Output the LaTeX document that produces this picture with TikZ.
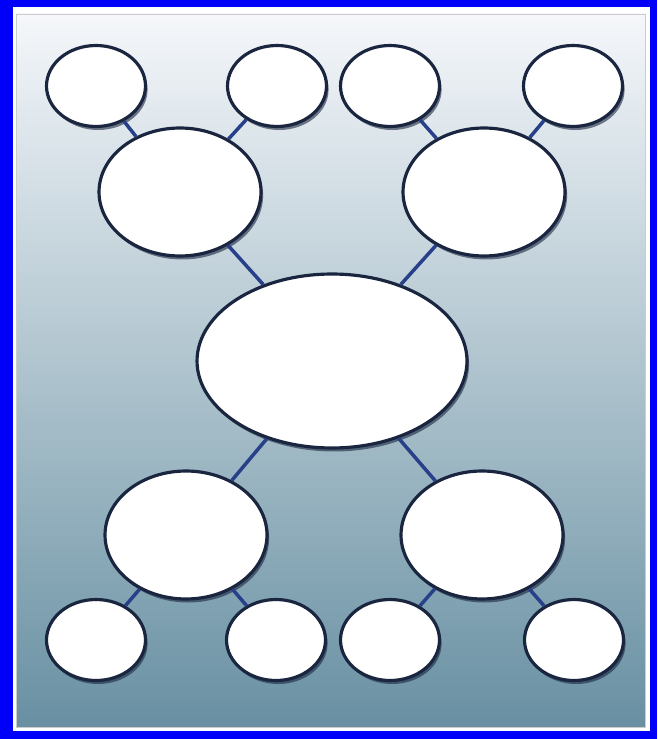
\documentclass[tikz,border=0pt]{standalone}
\usetikzlibrary{shapes.geometric, shadows}
\definecolor{frameBlue}{RGB}{0,0,250}
\definecolor{panelTop}{RGB}{245,247,250}
\definecolor{panelMid}{RGB}{170,193,205}
\definecolor{panelBot}{RGB}{104,144,162}
\definecolor{rimNavy}{RGB}{26,38,64}
\definecolor{linkBlue}{RGB}{40,64,138}

\begin{document}
\begin{tikzpicture}[x=0.02cm, y=-0.02cm,
    bubble/.style={ellipse, draw=rimNavy, line width=1.8pt, fill=white, inner sep=0pt,
      drop shadow={shadow xshift=1.2pt, shadow yshift=-2pt, opacity=0.6, fill=rimNavy}},
    leaf/.style={bubble, minimum width=1.98cm, minimum height=1.62cm},
    branch/.style={bubble, minimum width=3.24cm, minimum height=2.56cm},
    hub/.style={bubble, minimum width=5.4cm, minimum height=3.48cm},
    link/.style={draw=linkBlue, line width=2pt}]

    % frame and panel
    \useasboundingbox (0,0) rectangle (657,739);
    \fill[frameBlue] (0,0) rectangle (657,739);
    \fill[white] (13,7) rectangle (650,731);
    \shade[top color=panelTop, middle color=panelMid, bottom color=panelBot, draw=gray!40, line width=0.4pt]
      (16,14) rectangle (645,727);

    % bubbles
    \node[hub] (ctr) at (332,361) {};
    \node[branch] (ul) at (180,192) {};
    \node[branch] (ur) at (484,192) {};
    \node[branch] (ll) at (186,535) {};
    \node[branch] (lr) at (482,535) {};

    \node[leaf] (ul1) at (96,86) {};
    \node[leaf] (ul2) at (277,86) {};
    \node[leaf] (ur1) at (390,86) {};
    \node[leaf] (ur2) at (573,86) {};
    \node[leaf] (ll1) at (96,640) {};
    \node[leaf] (ll2) at (276,640) {};
    \node[leaf] (lr1) at (390,640) {};
    \node[leaf] (lr2) at (574,640) {};

    % connectors
    \foreach \a/\b in {ul/ctr, ur/ctr, ll/ctr, lr/ctr,
                       ul1/ul, ul2/ul, ur1/ur, ur2/ur,
                       ll1/ll, ll2/ll, lr1/lr, lr2/lr}
      \draw[link] (\a) -- (\b);

\end{tikzpicture}
\end{document}
